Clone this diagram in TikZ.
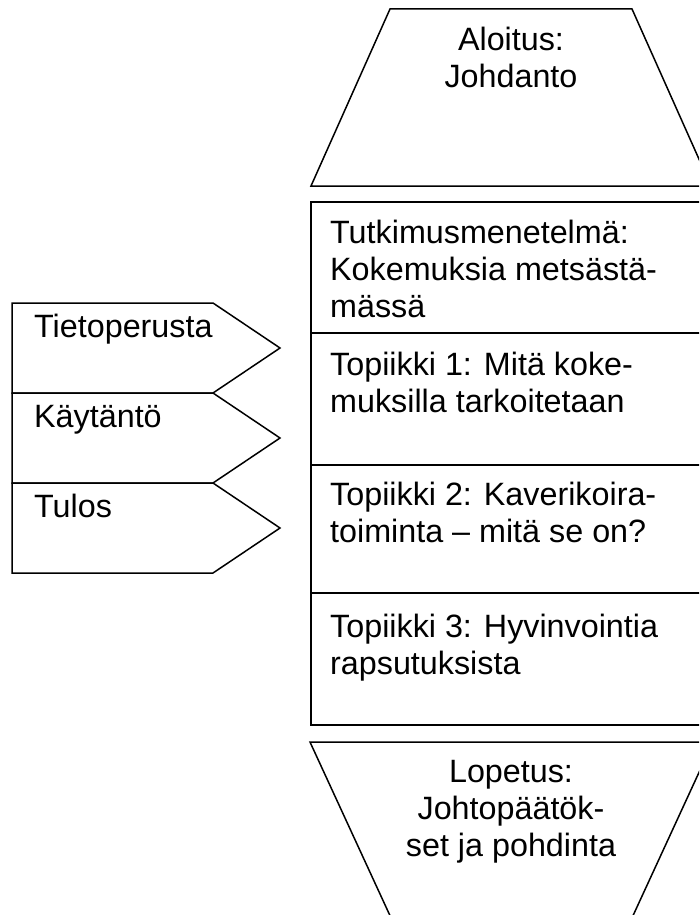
\documentclass[tikz,border=0pt]{standalone}
\usepackage{fontspec}
\setmainfont{Liberation Sans}
\tikzset{
  shapeline/.style={draw=black, line width=1.5pt, line join=miter},
  txt/.style={inner sep=0pt, font={\fontsize{32.3}{37}\selectfont}},
  lefttxt/.style={txt, anchor=north west, align=left},
  midtxt/.style={txt, anchor=north, align=center}
}
\newcommand{\tstrut}{\rule{0pt}{25pt}}
\begin{document}
\begin{tikzpicture}[x=1pt,y=-1pt]
\useasboundingbox (0,0) rectangle (699,915);
\clip (0,0) rectangle (699,915);
% top trapezoid
\draw[shapeline] (390,9) -- (632,9) -- (711,186) -- (311,186) -- cycle;
\node[midtxt] (aloitus) at (511,25) {\tstrut Aloitus:\\Johdanto};
% middle box
\draw[shapeline] (311,202) rectangle (714,725);
\draw[shapeline] (311,333) -- (714,333);
\draw[shapeline] (311,465) -- (714,465);
\draw[shapeline] (311,593) -- (714,593);
\node[lefttxt] (tutk) at (330,218) {\tstrut Tutkimusmenetelmä:\\Kokemuksia metsästä-\\mässä};
\node[lefttxt] (top1) at (330,350) {\tstrut Topiikki 1: Mitä koke-\\muksilla tarkoitetaan};
\node[lefttxt] (top2) at (330,480) {\tstrut Topiikki 2: Kaverikoira-\\toiminta – mitä se on?};
\node[lefttxt] (top3) at (330,612) {\tstrut Topiikki 3: Hyvinvointia\\rapsutuksista};
% bottom trapezoid
\draw[shapeline] (310,742) -- (713,742) -- (631,920) -- (392,920) -- cycle;
\node[midtxt] (lopetus) at (511,757) {\tstrut Lopetus:\\Johtopäätök-\\set ja pohdinta};
% left arrows
\draw[shapeline] (12,303) -- (213,303) -- (280,348) -- (213,393) -- (12,393) -- cycle;
\draw[shapeline] (12,393) -- (213,393) -- (280,438) -- (213,483) -- (12,483) -- cycle;
\draw[shapeline] (12,483) -- (213,483) -- (280,528) -- (213,573) -- (12,573) -- cycle;
\node[lefttxt] (tieto) at (34,312) {\tstrut Tietoperusta};
\node[lefttxt] (kayt) at (34,402) {\tstrut Käytäntö};
\node[lefttxt] (tulos) at (34,492) {\tstrut Tulos};
\end{tikzpicture}
\end{document}
